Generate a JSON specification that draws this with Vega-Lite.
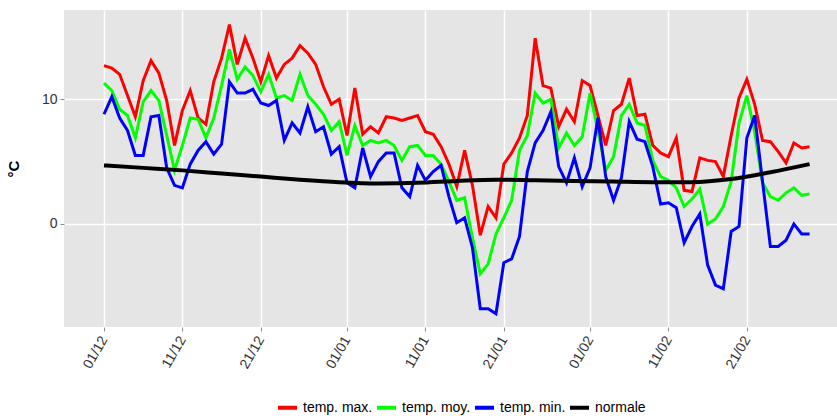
{
  "$schema": "https://vega.github.io/schema/vega-lite/v6.json",
  "width": 773,
  "height": 317,
  "autosize": {"type": "none"},
  "padding": {"left": 64, "top": 10, "right": 0, "bottom": 89},
  "background": "white",
  "config": {
    "view": {"fill": "#E5E5E5", "stroke": null},
    "font": "Liberation Sans",
    "axis": {
      "domain": false,
      "gridColor": "white",
      "gridWidth": 1.5,
      "tickColor": "#8C8C8C",
      "tickSize": 4,
      "labelColor": "#333333",
      "labelFontSize": 14,
      "labelFont": "Liberation Sans"
    }
  },
  "datasets": {
    "temps": [
      {"d": "2015-12-01", "max": 12.7, "moy": 11.3, "min": 8.8},
      {"d": "2015-12-02", "max": 12.5, "moy": 10.7, "min": 10.2},
      {"d": "2015-12-03", "max": 12.0, "moy": 9.2, "min": 8.5},
      {"d": "2015-12-04", "max": 10.3, "moy": 8.7, "min": 7.5},
      {"d": "2015-12-05", "max": 8.6, "moy": 6.9, "min": 5.5},
      {"d": "2015-12-06", "max": 11.5, "moy": 9.8, "min": 5.5},
      {"d": "2015-12-07", "max": 13.1, "moy": 10.7, "min": 8.6},
      {"d": "2015-12-08", "max": 12.1, "moy": 9.9, "min": 8.7},
      {"d": "2015-12-09", "max": 9.9, "moy": 7.1, "min": 4.5},
      {"d": "2015-12-10", "max": 6.3, "moy": 4.3, "min": 3.1},
      {"d": "2015-12-11", "max": 9.1, "moy": 6.3, "min": 2.9},
      {"d": "2015-12-12", "max": 10.7, "moy": 8.5, "min": 4.8},
      {"d": "2015-12-13", "max": 8.5, "moy": 8.4, "min": 5.9},
      {"d": "2015-12-14", "max": 8.0, "moy": 6.9, "min": 6.6},
      {"d": "2015-12-15", "max": 11.4, "moy": 8.5, "min": 5.6},
      {"d": "2015-12-16", "max": 13.3, "moy": 11.1, "min": 6.4},
      {"d": "2015-12-17", "max": 16.0, "moy": 14.0, "min": 11.4},
      {"d": "2015-12-18", "max": 12.8, "moy": 11.6, "min": 10.5},
      {"d": "2015-12-19", "max": 14.9, "moy": 12.6, "min": 10.5},
      {"d": "2015-12-20", "max": 13.3, "moy": 11.9, "min": 10.8},
      {"d": "2015-12-21", "max": 11.4, "moy": 10.6, "min": 9.7},
      {"d": "2015-12-22", "max": 13.5, "moy": 12.0, "min": 9.5},
      {"d": "2015-12-23", "max": 11.7, "moy": 10.1, "min": 9.9},
      {"d": "2015-12-24", "max": 12.8, "moy": 10.3, "min": 6.7},
      {"d": "2015-12-25", "max": 13.3, "moy": 9.9, "min": 8.1},
      {"d": "2015-12-26", "max": 14.3, "moy": 12.0, "min": 7.3},
      {"d": "2015-12-27", "max": 13.7, "moy": 10.3, "min": 9.4},
      {"d": "2015-12-28", "max": 12.8, "moy": 9.6, "min": 7.4},
      {"d": "2015-12-29", "max": 11.0, "moy": 8.8, "min": 7.8},
      {"d": "2015-12-30", "max": 9.6, "moy": 7.5, "min": 5.6},
      {"d": "2015-12-31", "max": 10.0, "moy": 8.2, "min": 6.2},
      {"d": "2016-01-01", "max": 7.1, "moy": 5.5, "min": 3.3},
      {"d": "2016-01-02", "max": 10.9, "moy": 7.9, "min": 2.9},
      {"d": "2016-01-03", "max": 7.2, "moy": 6.3, "min": 6.1},
      {"d": "2016-01-04", "max": 7.8, "moy": 6.7, "min": 3.8},
      {"d": "2016-01-05", "max": 7.3, "moy": 6.5, "min": 5.0},
      {"d": "2016-01-06", "max": 8.6, "moy": 6.7, "min": 5.7},
      {"d": "2016-01-07", "max": 8.5, "moy": 6.3, "min": 5.7},
      {"d": "2016-01-08", "max": 8.3, "moy": 5.1, "min": 2.9},
      {"d": "2016-01-09", "max": 8.5, "moy": 6.2, "min": 2.2},
      {"d": "2016-01-10", "max": 8.7, "moy": 6.3, "min": 4.7},
      {"d": "2016-01-11", "max": 7.4, "moy": 5.5, "min": 3.5},
      {"d": "2016-01-12", "max": 7.2, "moy": 5.5, "min": 4.2},
      {"d": "2016-01-13", "max": 6.2, "moy": 4.8, "min": 4.7},
      {"d": "2016-01-14", "max": 4.8, "moy": 3.4, "min": 2.2},
      {"d": "2016-01-15", "max": 3.0, "moy": 1.9, "min": 0.1},
      {"d": "2016-01-16", "max": 5.9, "moy": 2.1, "min": 0.5},
      {"d": "2016-01-17", "max": 3.1, "moy": -1.1, "min": -1.9},
      {"d": "2016-01-18", "max": -0.9, "moy": -4.0, "min": -6.8},
      {"d": "2016-01-19", "max": 1.4, "moy": -3.2, "min": -6.8},
      {"d": "2016-01-20", "max": 0.5, "moy": -0.8, "min": -7.2},
      {"d": "2016-01-21", "max": 4.8, "moy": 0.5, "min": -3.1},
      {"d": "2016-01-22", "max": 5.7, "moy": 1.9, "min": -2.8},
      {"d": "2016-01-23", "max": 6.9, "moy": 5.9, "min": -1.0},
      {"d": "2016-01-24", "max": 8.7, "moy": 7.1, "min": 4.2},
      {"d": "2016-01-25", "max": 14.9, "moy": 10.5, "min": 6.5},
      {"d": "2016-01-26", "max": 11.1, "moy": 9.7, "min": 7.5},
      {"d": "2016-01-27", "max": 10.9, "moy": 10.0, "min": 9.0},
      {"d": "2016-01-28", "max": 7.8, "moy": 6.1, "min": 4.6},
      {"d": "2016-01-29", "max": 9.2, "moy": 7.3, "min": 3.3},
      {"d": "2016-01-30", "max": 8.2, "moy": 6.3, "min": 5.3},
      {"d": "2016-01-31", "max": 11.5, "moy": 7.0, "min": 3.0},
      {"d": "2016-02-01", "max": 11.1, "moy": 10.5, "min": 4.5},
      {"d": "2016-02-02", "max": 8.7, "moy": 7.5, "min": 8.5},
      {"d": "2016-02-03", "max": 6.3, "moy": 4.3, "min": 3.8},
      {"d": "2016-02-04", "max": 9.1, "moy": 5.4, "min": 1.9},
      {"d": "2016-02-05", "max": 9.6, "moy": 8.7, "min": 3.7},
      {"d": "2016-02-06", "max": 11.7, "moy": 9.6, "min": 8.2},
      {"d": "2016-02-07", "max": 8.7, "moy": 8.1, "min": 6.8},
      {"d": "2016-02-08", "max": 8.8, "moy": 7.9, "min": 6.6},
      {"d": "2016-02-09", "max": 6.3, "moy": 5.1, "min": 4.6},
      {"d": "2016-02-10", "max": 5.7, "moy": 3.8, "min": 1.6},
      {"d": "2016-02-11", "max": 5.4, "moy": 3.5, "min": 1.7},
      {"d": "2016-02-12", "max": 6.9, "moy": 2.9, "min": 1.3},
      {"d": "2016-02-13", "max": 2.7, "moy": 1.4, "min": -1.5},
      {"d": "2016-02-14", "max": 2.6, "moy": 2.0, "min": -0.2},
      {"d": "2016-02-15", "max": 5.3, "moy": 2.8, "min": 0.8},
      {"d": "2016-02-16", "max": 5.1, "moy": 0.0, "min": -3.3},
      {"d": "2016-02-17", "max": 5.0, "moy": 0.4, "min": -4.9},
      {"d": "2016-02-18", "max": 3.8, "moy": 1.4, "min": -5.2},
      {"d": "2016-02-19", "max": 7.1, "moy": 3.4, "min": -0.6},
      {"d": "2016-02-20", "max": 10.1, "moy": 8.1, "min": -0.2},
      {"d": "2016-02-21", "max": 11.6, "moy": 10.3, "min": 6.9},
      {"d": "2016-02-22", "max": 9.6, "moy": 7.4, "min": 8.7},
      {"d": "2016-02-23", "max": 6.7, "moy": 3.3, "min": 3.4},
      {"d": "2016-02-24", "max": 6.6, "moy": 2.2, "min": -1.8},
      {"d": "2016-02-25", "max": 5.8, "moy": 1.9, "min": -1.8},
      {"d": "2016-02-26", "max": 4.9, "moy": 2.5, "min": -1.3},
      {"d": "2016-02-27", "max": 6.5, "moy": 2.9, "min": 0.0},
      {"d": "2016-02-28", "max": 6.1, "moy": 2.3, "min": -0.8},
      {"d": "2016-02-29", "max": 6.2, "moy": 2.4, "min": -0.8}
    ],
    "norm": [
      {"d": "2015-12-01", "key": "normale", "value": 4.7},
      {"d": "2015-12-06", "key": "normale", "value": 4.5},
      {"d": "2015-12-11", "key": "normale", "value": 4.3},
      {"d": "2015-12-16", "key": "normale", "value": 4.05},
      {"d": "2015-12-21", "key": "normale", "value": 3.8},
      {"d": "2015-12-26", "key": "normale", "value": 3.55},
      {"d": "2015-12-31", "key": "normale", "value": 3.35},
      {"d": "2016-01-05", "key": "normale", "value": 3.25},
      {"d": "2016-01-10", "key": "normale", "value": 3.3},
      {"d": "2016-01-15", "key": "normale", "value": 3.45},
      {"d": "2016-01-20", "key": "normale", "value": 3.55},
      {"d": "2016-01-25", "key": "normale", "value": 3.5},
      {"d": "2016-01-30", "key": "normale", "value": 3.45},
      {"d": "2016-02-04", "key": "normale", "value": 3.4},
      {"d": "2016-02-09", "key": "normale", "value": 3.35},
      {"d": "2016-02-14", "key": "normale", "value": 3.35},
      {"d": "2016-02-19", "key": "normale", "value": 3.6},
      {"d": "2016-02-24", "key": "normale", "value": 4.15},
      {"d": "2016-02-29", "key": "normale", "value": 4.8}
    ]
  },
  "encoding": {
    "x": {
      "field": "d",
      "type": "temporal",
      "scale": {
        "type": "utc",
        "domain": [
          {"year": 2015, "month": 11, "date": 25, "hours": 21, "minutes": 36, "utc": true},
          {"year": 2016, "month": 3, "date": 3, "hours": 12, "utc": true}
        ]
      },
      "axis": {
        "title": null,
        "values": [
          {"year": 2015, "month": 12, "date": 1, "utc": true},
          {"year": 2015, "month": 12, "date": 11, "utc": true},
          {"year": 2015, "month": 12, "date": 21, "utc": true},
          {"year": 2016, "month": 1, "date": 1, "utc": true},
          {"year": 2016, "month": 1, "date": 11, "utc": true},
          {"year": 2016, "month": 1, "date": 21, "utc": true},
          {"year": 2016, "month": 2, "date": 1, "utc": true},
          {"year": 2016, "month": 2, "date": 11, "utc": true},
          {"year": 2016, "month": 2, "date": 21, "utc": true}
        ],
        "labelExpr": "utcFormat(datum.value, '%d/%m')",
        "labelAngle": -60,
        "labelAlign": "right",
        "labelBaseline": "middle",
        "labelPadding": 6,
        "grid": true
      }
    },
    "y": {
      "field": "value",
      "type": "quantitative",
      "scale": {"domain": [-8.26, 17.16], "nice": false, "zero": false},
      "axis": {
        "title": "°C",
        "values": [0, 10],
        "titleFontSize": 15,
        "titleFontWeight": "bold",
        "titleColor": "black",
        "titlePadding": 20,
        "labelPadding": 3,
        "grid": true
      }
    },
    "color": {
      "field": "key",
      "type": "nominal",
      "scale": {
        "domain": ["max", "moy", "min", "normale"],
        "range": ["#FF0000", "#00FF00", "#0000FF", "#000000"]
      },
      "legend": {
        "title": null,
        "orient": "none",
        "legendX": 212,
        "legendY": 386,
        "direction": "horizontal",
        "symbolType": "stroke",
        "symbolStrokeWidth": 4,
        "symbolSize": 361,
        "labelFontSize": 14,
        "labelColor": "black",
        "labelOffset": 4,
        "columnPadding": -4,
        "labelExpr": "datum.label == 'max' ? 'temp. max.' : datum.label == 'moy' ? 'temp. moy.' : datum.label == 'min' ? 'temp. min.' : 'normale'"
      }
    }
  },
  "layer": [
    {
      "data": {"name": "temps"},
      "transform": [{"fold": ["max", "moy", "min"], "as": ["key", "value"]}],
      "mark": {"type": "line", "strokeWidth": 3, "clip": true}
    },
    {
      "data": {"name": "norm"},
      "mark": {"type": "line", "strokeWidth": 4, "interpolate": "monotone", "clip": true}
    }
  ]
}
